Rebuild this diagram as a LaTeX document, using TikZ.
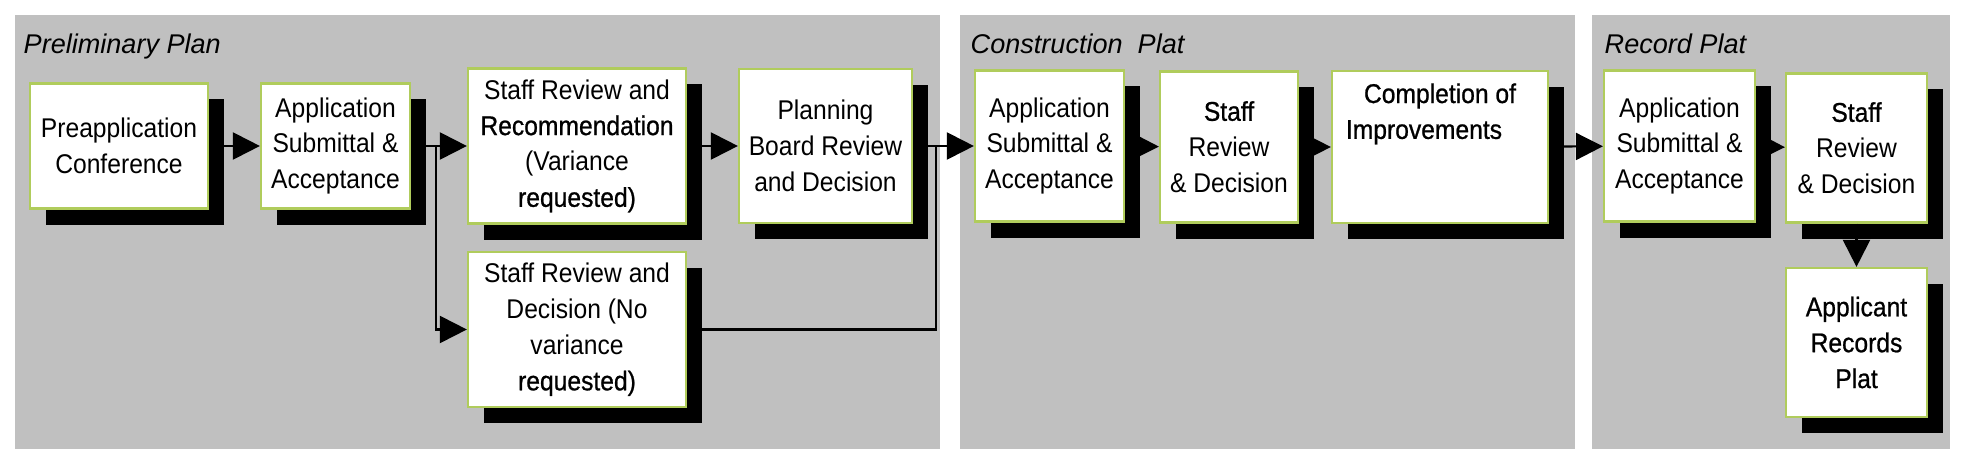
\documentclass[tikz,border=0pt]{standalone}
\usepackage{fontspec}
\setmainfont{Liberation Sans}
\newfontfamily\boxfont[FakeStretch=0.91]{Liberation Sans}
\newfontfamily\heavyfont[FakeStretch=0.91,FakeBold=0.8]{Liberation Sans}
\usetikzlibrary{arrows.meta,positioning,shadows}
\definecolor{figG}{RGB}{176,204,92}
\definecolor{figP}{RGB}{192,192,192}

\begin{document}
\begin{tikzpicture}[x=0.01cm,y=-0.01cm,
  stage/.style={draw=figG,fill=white,line width=0.6pt,align=center,inner sep=1pt,
    font=\boxfont\fontsize{7.7}{10.2}\selectfont,
    drop shadow={shadow xshift=0.16cm,shadow yshift=-0.16cm,fill=black,opacity=1}},
  head/.style={anchor=base west,inner sep=0pt,font=\fontsize{7.7}{9}\selectfont\itshape},
  link/.style={line width=0.6pt},
  flow/.style={link,-{Triangle[length=0.27cm,width=0.27cm]}}]
\useasboundingbox (0,0) rectangle (1966,470);
\fill[figP] (15,15) rectangle (940,449);
\fill[figP] (960,15) rectangle (1575,449);
\fill[figP] (1592,15) rectangle (1950,449);
\node[head] (prelimT) at (23,54) {Preliminary Plan};
\node[head] (constrT) at (970,54) {Construction\ \ Plat};
\node[head] (recordT) at (1604,54) {Record Plat};
% preliminary plan
\node[stage,minimum width=1.78cm,minimum height=1.25cm] (preP) at (119,146) {Preapplication\\Conference};
\node[stage,minimum width=1.49cm,minimum height=1.25cm] (appP) at (335.5,146) {Application\\Submittal \&\\Acceptance};
\node[stage,minimum width=2.18cm,minimum height=1.55cm] (recP) at (577,146) {Staff Review and\\\heavyfont Recommendation\\(Variance\\\heavyfont requested)};
\node[stage,minimum width=2.18cm,minimum height=1.55cm] (decP) at (577,329.5) {Staff Review and\\Decision (No\\variance\\\heavyfont requested)};
\node[stage,minimum width=1.73cm,minimum height=1.54cm] (boardP) at (825.5,146) {Planning\\Board Review\\and Decision};
% construction plat
\node[stage,minimum width=1.49cm,minimum height=1.51cm] (appC) at (1049.5,146) {Application\\Submittal \&\\Acceptance};
\node[stage,minimum width=1.38cm,minimum height=1.51cm] (staffC) at (1229,147) {\heavyfont Staff\\Review\\\& Decision};
\node[stage,minimum width=2.16cm,minimum height=1.52cm] (doneC) at (1440,147) {\heavyfont Completion of\\\heavyfont\hspace*{-0.32cm}Improvements\\~\\~};
% record plat
\node[stage,minimum width=1.51cm,minimum height=1.51cm] (appR) at (1679.5,146) {Application\\Submittal \&\\Acceptance};
\node[stage,minimum width=1.41cm,minimum height=1.49cm] (staffR) at (1856.5,148) {\heavyfont Staff\\Review\\\& Decision};
\node[stage,minimum width=1.41cm,minimum height=1.49cm] (platR) at (1856.5,342.5) {\heavyfont Applicant\\\heavyfont Records\\\heavyfont Plat};
\coordinate (splitP) at (436,146);
\coordinate (joinP) at (936,146);
\draw[flow] (preP) -- (appP);
\draw[link] (appP) -- (splitP);
\draw[flow] (splitP) -- (recP);
\draw[flow] (splitP) |- (decP);
\draw[flow] (recP) -- (boardP);
\draw[link] (boardP) -- (joinP);
\draw[link] (decP) -| (joinP);
\draw[flow] (joinP) -- (appC);
\draw[flow] (appC) -- (staffC);
\draw[flow] (staffC) -- (doneC);
\draw[flow] (doneC) -- (appR);
\draw[flow] (appR) -- (staffR);
\draw[flow] (staffR) -- (platR);
\end{tikzpicture}
\end{document}
